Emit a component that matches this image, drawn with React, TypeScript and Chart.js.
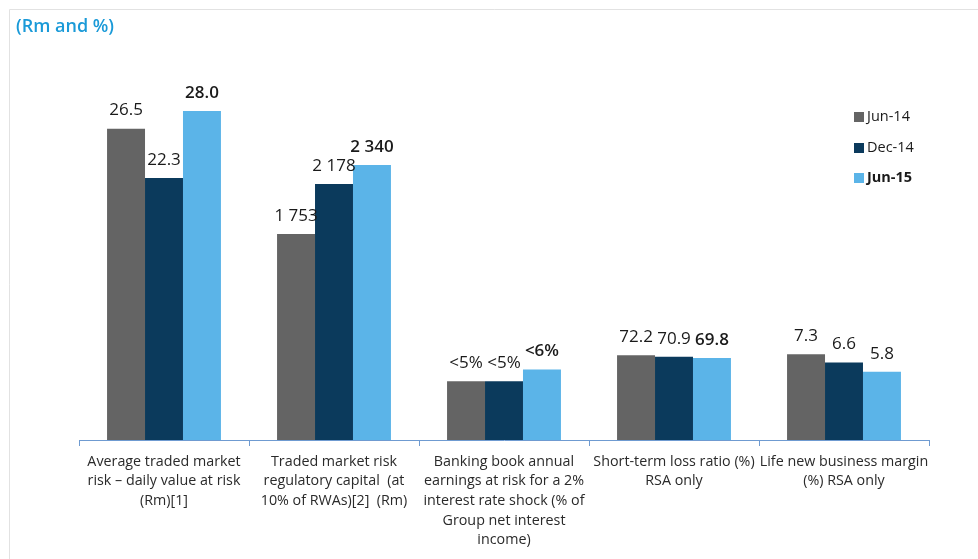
import React, { useEffect, useRef } from "react";
import { Chart, registerables } from "chart.js";

Chart.register(...registerables);

const categories: string[][] = [
  ["Average traded market", "risk – daily value at risk", "(Rm)[1]"],
  ["Traded market risk", "regulatory capital  (at", "10% of RWAs)[2]  (Rm)"],
  ["Banking book annual", "earnings at risk for a 2%", "interest rate shock (% of", "Group net interest", "income)"],
  ["Short-term loss ratio (%)", "RSA only"],
  ["Life new business margin", "(%) RSA only"],
];

const seriesNames = ["Jun-14", "Dec-14", "Jun-15"];
const seriesColors = ["#646464", "#0b3a5c", "#5bb4e8"];

// Plotted values (chart units: Rm, Rm/100, %, %/10, %)
const jun14 = [26.5, 17.53, 5, 7.22, 7.3];
const dec14 = [22.3, 21.78, 5, 7.09, 6.6];
const jun15 = [28.0, 23.4, 6, 6.98, 5.8];

// Displayed value labels
const jun14Labels = ["26.5", "1 753", "<5%", "72.2", "7.3"];
const dec14Labels = ["22.3", "2 178", "<5%", "70.9", "6.6"];
const jun15Labels = ["28.0", "2 340", "<6%", "69.8", "5.8"];
const jun15Bold = [true, true, true, true, false];

const FONT = "'Open Sans', 'Noto Sans', sans-serif";

export default function App() {
  const ref = useRef<HTMLCanvasElement | null>(null);

  useEffect(() => {
    if (!ref.current) return;
    const labelSets = [jun14Labels, dec14Labels, jun15Labels];

    const framePlugin = {
      id: "frame",
      beforeDraw(chart: any) {
        const ctx = chart.ctx;
        ctx.save();
        ctx.fillStyle = "#ffffff";
        ctx.fillRect(0, 0, chart.width, chart.height);
        ctx.strokeStyle = "#e2e2e2";
        ctx.lineWidth = 1;
        ctx.beginPath();
        ctx.moveTo(9.5, chart.height + 2);
        ctx.lineTo(9.5, 9.5);
        ctx.lineTo(chart.width + 2, 9.5);
        ctx.stroke();
        // title
        ctx.fillStyle = "#1a9ad8";
        ctx.font = `600 18px ${FONT}`;
        ctx.textBaseline = "middle";
        ctx.textAlign = "left";
        ctx.fillText("(Rm and %)", 16, 27);
        ctx.restore();
      },
      afterDatasetsDraw(chart: any) {
        const ctx = chart.ctx;
        ctx.save();
        ctx.textAlign = "center";
        ctx.textBaseline = "middle";
        ctx.fillStyle = "#1a1a1a";
        chart.data.datasets.forEach((ds: any, di: number) => {
          const meta = chart.getDatasetMeta(di);
          meta.data.forEach((el: any, i: number) => {
            const bold = di === 2 && jun15Bold[i];
            ctx.font = `${bold ? "600 " : ""}17px ${FONT}`;
            ctx.fillText(labelSets[di][i], el.x, el.y - 18);
          });
        });
        // legend
        const ys = [117, 148, 178];
        seriesNames.forEach((name, i) => {
          ctx.fillStyle = seriesColors[i];
          ctx.fillRect(854, ys[i] - 5, 10, 10);
          ctx.fillStyle = "#1a1a1a";
          ctx.textAlign = "left";
          ctx.font = `${i === 2 ? "bold " : ""}14.5px ${FONT}`;
          ctx.fillText(name, 867, ys[i]);
        });
        ctx.restore();
      },
    };

    const chart = new Chart(ref.current, {
      type: "bar",
      data: {
        labels: categories,
        datasets: [
          { label: seriesNames[0], data: jun14, backgroundColor: seriesColors[0] },
          { label: seriesNames[1], data: dec14, backgroundColor: seriesColors[1] },
          { label: seriesNames[2], data: jun15, backgroundColor: seriesColors[2] },
        ],
      },
      options: {
        responsive: false,
        animation: false,
        events: [],
        layout: { padding: { left: 79, right: 49, top: 87.5, bottom: 0 } },
        datasets: {
          bar: { categoryPercentage: 0.67, barPercentage: 1 },
        },
        plugins: {
          legend: { display: false },
          title: { display: false },
          tooltip: { enabled: false },
        },
        scales: {
          x: {
            grid: {
              display: true,
              drawOnChartArea: false,
              drawTicks: true,
              tickLength: 6,
              color: "#6f9bd1",
              offset: true,
            },
            border: { display: true, color: "#6f9bd1", width: 1 },
            ticks: {
              maxRotation: 0,
              minRotation: 0,
              autoSkip: false,
              padding: 6,
              color: "#2a2a2a",
              font: { family: FONT, size: 14.3, lineHeight: 1.37 },
            },
            afterFit: (scale: any) => {
              scale.height = 119;
            },
          },
          y: {
            display: false,
            min: 0,
            max: 30,
          },
        },
      },
      plugins: [framePlugin],
    });
    return () => chart.destroy();
  }, []);

  return (
    <div style={{ position: "absolute", left: 0, top: 0, width: 978, height: 559 }}>
      <canvas ref={ref} width={978} height={559} style={{ display: "block" }} />
    </div>
  );
}
